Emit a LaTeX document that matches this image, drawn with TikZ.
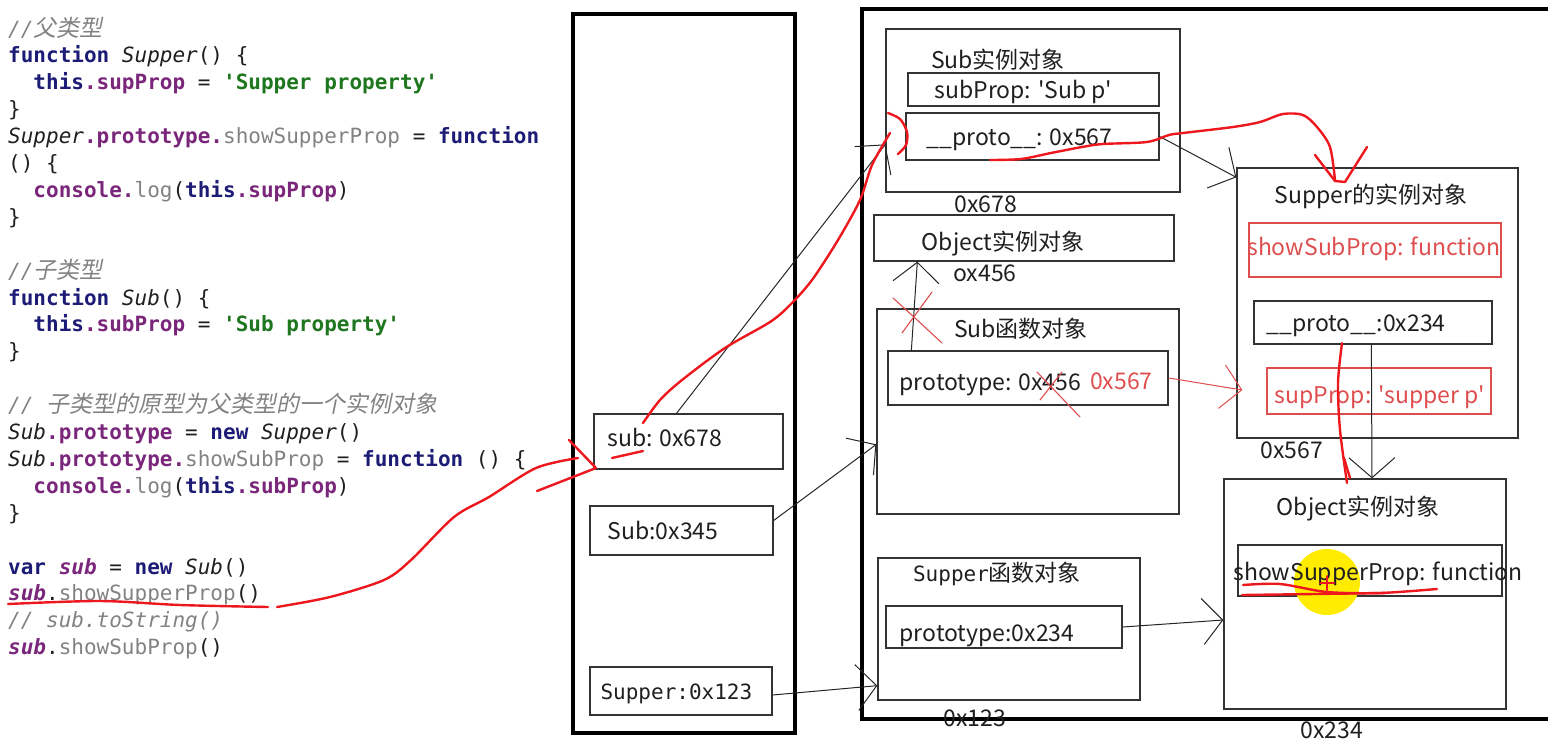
\documentclass[tikz,border=0pt]{standalone}
\usepackage{fontspec}
\setmonofont{DejaVu Sans Mono}
\newfontfamily\cjk{Noto Sans CJK SC}
\newfontfamily\cjkit[FakeSlant=0.2]{Noto Sans CJK SC}
\usetikzlibrary{arrows.meta,positioning}

\definecolor{kwblue}{RGB}{28,28,118}
\definecolor{propurple}{RGB}{122,38,122}
\definecolor{strgreen}{RGB}{30,118,30}
\definecolor{fngray}{RGB}{130,130,130}
\definecolor{inkred}{RGB}{236,24,30}
\definecolor{boxred}{RGB}{222,78,78}
\definecolor{hilite}{RGB}{255,236,0}

% code colouring
\newcommand{\kw}[1]{\textcolor{kwblue}{\textbf{#1}}}
\newcommand{\jsprop}[1]{\textcolor{propurple}{\textbf{#1}}}
\newcommand{\jsvar}[1]{\textcolor{propurple}{\textbf{\textit{#1}}}}
\newcommand{\jsstr}[1]{\textcolor{strgreen}{\textbf{#1}}}
\newcommand{\jsfn}[1]{\textcolor{fngray}{#1}}
\newcommand{\jsid}[1]{\textit{#1}}
\newcommand{\jscom}[1]{\textcolor{fngray}{\itshape #1}}
\newcommand{\jscn}[1]{{\cjkit\fontsize{23}{25}\selectfont #1}}
\newcommand{\q}{\textquotesingle}

\begin{document}
\begin{tikzpicture}[
    x=1pt, y=-1pt,
    frame/.style={draw=black, line width=4},
    obj/.style args={#1x#2}{draw=black!80, line width=1.3, minimum width=#1, minimum height=#2, inner sep=0},
    lbl/.style={inner sep=0, text height=19, text depth=2, text=black!88, font=\cjk\fontsize{23}{27}\selectfont},
    monolbl/.style={lbl, font=\ttfamily\fontsize{21}{25}\selectfont},
    code/.style={anchor=base west, inner sep=0, text=black!88, font=\ttfamily\fontsize{21}{25}\selectfont},
    ptr/.style={draw=black!85, line width=1, -{Straight Barb[length=20pt,width=46pt]}},
    redptr/.style={draw=boxred, line width=1, -{Straight Barb[length=20pt,width=44pt]}},
    ink/.style={draw=inkred, line width=2.4, line cap=round, line join=round},
    inkthin/.style={draw=boxred, line width=1.1, line cap=round}
]
\path[use as bounding box] (0,0) rectangle (1548,745);
\clip (0,0) rectangle (1548,745);

% --- Source code ---
\node[code] (c1)  at (8,36)    {\jscom{//\jscn{父类型}}};
\node[code] (c2)  at (8,62.9)  {\kw{function} \jsid{Supper}() \{};
\node[code] (c3)  at (8,89.8)  {\ \ \kw{this}\jsprop{.supProp} = \jsstr{\q Supper property\q}};
\node[code] (c4)  at (8,116.7) {\}};
\node[code] (c5)  at (8,143.6) {\jsid{Supper}\jsprop{.prototype.}\jsfn{showSupperProp} = \kw{function}};
\node[code] (c6)  at (8,170.5) {() \{};
\node[code] (c7)  at (8,197.4) {\ \ \jsprop{console.}\jsfn{log}(\kw{this}\jsprop{.supProp})};
\node[code] (c8)  at (8,224.3) {\}};
\node[code] (c10) at (8,278.1) {\jscom{//\jscn{子类型}}};
\node[code] (c11) at (8,305)   {\kw{function} \jsid{Sub}() \{};
\node[code] (c12) at (8,331.9) {\ \ \kw{this}\jsprop{.subProp} = \jsstr{\q Sub property\q}};
\node[code] (c13) at (8,358.8) {\}};
\node[code] (c15) at (8,412.6) {\jscom{// \jscn{子类型的原型为父类型的一个实例对象}}};
\node[code] (c16) at (8,439.5) {\jsid{Sub}\jsprop{.prototype} = \kw{new} \jsid{Supper}()};
\node[code] (c17) at (8,466.4) {\jsid{Sub}\jsprop{.prototype.}\jsfn{showSubProp} = \kw{function} () \{};
\node[code] (c18) at (8,493.3) {\ \ \jsprop{console.}\jsfn{log}(\kw{this}\jsprop{.subProp})};
\node[code] (c19) at (8,520.2) {\}};
\node[code] (c21) at (8,574)   {\kw{var} \jsvar{sub} = \kw{new} \jsid{Sub}()};
\node[code] (c22) at (8,600.9) {\jsvar{sub}.\jsfn{showSupperProp}()};
\node[code] (c23) at (8,627.8) {\jscom{// sub.toString()}};
\node[code] (c24) at (8,654.7) {\jsvar{sub}.\jsfn{showSubProp}()};

% --- Stack ---
\draw[frame] (573,14) rectangle (795,733);
\node[obj=189x55] (subvar) at (688.5,441.5) {};
\node[lbl, anchor=west] (tsubvar) at ([xshift=14,yshift=4]subvar.west) {sub: 0x678};
\node[obj=183x49] (subfnvar) at (681.5,530.5) {};
\node[lbl, anchor=west] (tsubfnvar) at ([xshift=18]subfnvar.west) {Sub:0x345};
\node[obj=182x48] (supfnvar) at (681,691) {};
\node[monolbl, anchor=west] (tsupfnvar) at ([xshift=11]supfnvar.west) {Supper:0x123};

% --- Heap ---
\draw[frame] (862,9) rectangle (1570,719);

% Sub instance
\node[obj=294x163] (subinst) at (1033,110.5) {};
\node[lbl] (tsubinst) at (998,60) {Sub实例对象};
\node[obj=251x33] (subprop) at (1033.5,89.5) {};
\node[lbl, anchor=west] (tsubprop) at ([xshift=27]subprop.west) {subProp: \q Sub p\q};
\node[obj=253x47] (proto1) at (1032.5,136.5) {};
\node[lbl, anchor=west] (tproto1) at ([xshift=21]proto1.west) {\_\_proto\_\_: 0x567};
\node[lbl] (a678) at (986,204) {0x678};

% Object instance (old prototype)
\node[obj=300x46] (objsmall) at (1024,238) {};
\node[lbl] (tobjsmall) at (1003,242) {Object实例对象};
\node[lbl] (a456) at (985,273) {ox456};

% Sub function
\node[obj=302x205] (subfn) at (1028,411.5) {};
\node[lbl] (tsubfn) at (1021,329) {Sub函数对象};
\node[obj=280x54] (subproto) at (1028,378) {};
\node[lbl, anchor=west] (tsubproto) at ([xshift=12,yshift=-4]subproto.west) {prototype: 0x456};
\node[lbl, text=boxred, anchor=west] (tnew567) at (1090,381) {0x567};

% Supper function
\node[obj=262x142] (supfn) at (1009,629) {};
\node[lbl] (tsupfn) at (997,573) {{\ttfamily\fontsize{21}{25}\selectfont Supper}函数对象};
\node[obj=236x42] (suppt) at (1004,627) {};
\node[lbl, anchor=west] (tsuppt) at ([xshift=14,yshift=-6]suppt.west) {prototype:0x234};
\node[lbl] (a123) at (975,718) {0x123};

% Supper instance
\node[obj=281x270] (supinst) at (1377.5,303) {};
\node[lbl] (tsupinst) at (1371,195) {Supper的实例对象};
\node[obj=252x54, draw=boxred] (showsub) at (1375,250) {};
\node[lbl, text=boxred] (tshowsub) at (1374,247) {showSubProp: function};
\node[obj=238x43] (supproto) at (1373,322.5) {};
\node[lbl] (tsupproto) at (1356,323) {\_\_proto\_\_:0x234};
\node[obj=224x46, draw=boxred] (supprop) at (1379,391) {};
\node[lbl, text=boxred] (tsupprop) at (1380,395) {supProp: \q supper p\q};
\node[lbl] (a567) at (1292,450) {0x567};

% Object instance (Supper prototype)
\node[obj=282x230] (objbig) at (1365,594) {};
\node[lbl] (tobjbig) at (1358,507) {Object实例对象};
\node[obj=264x51] (showsup) at (1370,570.5) {};
\fill[hilite] (1327,582) circle (33);
\node[lbl] (tshowsup) at (1378,572) {showSupperProp: function};
\node[lbl] (a234) at (1332,730) {0x234};

% --- References ---
\draw[ptr] ([xshift=-12]subvar.north) -- ([yshift=-116]subinst.north west);
\draw[ptr] ([yshift=10]subfnvar.east) -- ([yshift=-136]subfn.north west);
\draw[ptr] ([yshift=-4]supfnvar.east) -- ([yshift=15]supfn.south west);
\draw[ptr] (proto1.east) -- ([yshift=-10]supinst.north west);
\draw[ptr] ([xshift=24]subproto.north west) -- ([xshift=44]objsmall.south west);
\draw[ptr] (suppt.east) -- ([yshift=-26]objbig.west);
\draw[ptr] ([xshift=118]supproto.south west) -- ([xshift=7]objbig.north);
\draw[redptr] (subproto.east) -- ([xshift=6,yshift=-87]supinst.west);

% --- Red marks ---
\draw[inkthin] (893,298) -- (915,318) -- (942,343);
\draw[inkthin] (932,292) -- (902,333);
\draw[inkthin] (1037,372) -- (1080,417);
\draw[inkthin] (1062,372) -- (1040,400);
\draw[ink] plot[smooth] coordinates {(8,604) (100,601) (180,605) (268,607)};
\draw[ink] plot[smooth] coordinates {(277,607) (330,597) (384,580) (411,560) (454,517) (489,497) (536,468) (578,458)};
\draw[ink] (569,440) -- (596,468) -- (537,491);
\draw[ink] (612,458) -- (643,451);
\draw[ink] plot[smooth] coordinates {(643,423) (660,400) (682,380) (725,348) (770,322) (790,305) (812,280) (838,240) (860,200) (872,165) (890,133)};
\draw[ink] plot[smooth] coordinates {(888,113) (900,119) (907,132) (906,145) (898,154)};
\draw[ink] plot[smooth] coordinates {(990,160) (1021,159) (1051,153) (1082,147) (1103,144) (1147,142) (1169,135) (1183,133) (1233,127) (1260,122) (1283,114) (1303,115) (1317,127) (1330,147) (1335,180)};
\draw[ink] (1315,155) -- (1335,181) -- (1345,182) -- (1367,147);
\draw[ink] plot[smooth] coordinates {(1342,343) (1338,383) (1340,430) (1347,483)};
\draw[ink] (1344,458) -- (1350,478);
\draw[ink] plot[smooth] coordinates {(1243,585) (1280,584) (1327,592) (1380,593) (1437,589)};
\draw[ink] (1242,595) -- (1387,593);
\draw[inkthin, draw=inkred, line width=2] (1320,583) -- (1334,583) (1327,576) -- (1327,590);

\end{tikzpicture}
\end{document}
